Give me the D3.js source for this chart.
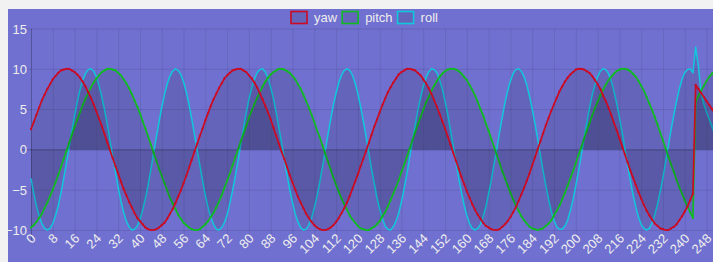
<!DOCTYPE html>
<html>
<head>
<meta charset="utf-8">
<script src="https://cdn.jsdelivr.net/npm/d3@7"></script>
<style>
  html, body { margin: 0; padding: 0; background: #f2f2f2; }
  svg { display: block; }
  text { font-family: 'Liberation Sans', Arial, sans-serif; }
</style>
</head>
<body>
<svg id="chart" width="713" height="262"></svg>
<script>
// sensor readings, one per sample index
const yaw = [
  2.5, 3.4, 4.3, 5.2, 6.1, 6.8, 7.5, 8.1, 8.7, 9.1,
  9.5, 9.8, 9.9, 10.0, 10.0, 9.8, 9.6, 9.3, 8.9, 8.4,
  7.8, 7.1, 6.4, 5.6, 4.7, 3.8, 2.9, 1.9, 0.9, -0.1,
  -1.1, -2.1, -3.0, -4.0, -4.9, -5.7, -6.5, -7.2, -7.9, -8.5,
  -8.9, -9.3, -9.7, -9.9, -10.0, -10.0, -9.9, -9.7, -9.4, -9.1,
  -8.6, -8.0, -7.4, -6.7, -5.9, -5.1, -4.2, -3.3, -2.3, -1.3,
  -0.3, 0.7, 1.7, 2.6, 3.6, 4.5, 5.4, 6.2, 6.9, 7.6,
  8.2, 8.8, 9.2, 9.5, 9.8, 9.9, 10.0, 10.0, 9.8, 9.6,
  9.2, 8.8, 8.3, 7.7, 7.0, 6.2, 5.4, 4.6, 3.7, 2.7,
  1.7, 0.7, -0.3, -1.2, -2.2, -3.2, -4.1, -5.0, -5.9, -6.6,
  -7.3, -8.0, -8.5, -9.0, -9.4, -9.7, -9.9, -10.0, -10.0, -9.9,
  -9.7, -9.4, -9.0, -8.5, -7.9, -7.3, -6.6, -5.8, -4.9, -4.0,
  -3.1, -2.1, -1.2, -0.2, 0.8, 1.8, 2.8, 3.7, 4.6, 5.5,
  6.3, 7.1, 7.7, 8.3, 8.8, 9.3, 9.6, 9.8, 10.0, 10.0,
  9.9, 9.8, 9.5, 9.2, 8.7, 8.2, 7.6, 6.9, 6.1, 5.3,
  4.4, 3.5, 2.6, 1.6, 0.6, -0.4, -1.4, -2.4, -3.4, -4.3,
  -5.2, -6.0, -6.8, -7.5, -8.1, -8.6, -9.1, -9.5, -9.7, -9.9,
  -10.0, -10.0, -9.9, -9.6, -9.3, -8.9, -8.4, -7.8, -7.2, -6.4,
  -5.6, -4.8, -3.9, -3.0, -2.0, -1.0, 0.0, 1.0, 2.0, 3.0,
  3.9, 4.8, 5.6, 6.4, 7.2, 7.8, 8.4, 8.9, 9.3, 9.6,
  9.9, 10.0, 10.0, 9.9, 9.7, 9.5, 9.1, 8.6, 8.1, 7.5,
  6.7, 6.0, 5.2, 4.3, 3.3, 2.4, 1.4, 0.4, -0.6, -1.6,
  -2.6, -3.5, -4.4, -5.3, -6.1, -6.9, -7.6, -8.2, -8.7, -9.2,
  -9.5, -9.8, -9.9, -10.0, -10.0, -9.8, -9.6, -9.3, -8.8, -8.3,
  -7.7, -7.1, -6.3, -5.5, 8.0, 7.5, 7.0, 6.5, 6.0, 5.5,
  5.0, 4.5
];

const pitch = [
  -9.7, -9.4, -9.0, -8.5, -8.0, -7.3, -6.6, -5.8, -5.0, -4.1,
  -3.2, -2.2, -1.2, -0.2, 0.8, 1.8, 2.8, 3.7, 4.6, 5.5,
  6.3, 7.0, 7.7, 8.3, 8.8, 9.2, 9.6, 9.8, 10.0, 10.0,
  9.9, 9.8, 9.5, 9.2, 8.7, 8.2, 7.6, 6.9, 6.1, 5.3,
  4.5, 3.5, 2.6, 1.6, 0.6, -0.4, -1.4, -2.4, -3.3, -4.2,
  -5.1, -6.0, -6.7, -7.4, -8.1, -8.6, -9.1, -9.4, -9.7, -9.9,
  -10.0, -10.0, -9.9, -9.6, -9.3, -8.9, -8.4, -7.9, -7.2, -6.5,
  -5.7, -4.8, -3.9, -3.0, -2.0, -1.0, 0.0, 1.0, 1.9, 2.9,
  3.9, 4.8, 5.6, 6.4, 7.1, 7.8, 8.4, 8.9, 9.3, 9.6,
  9.8, 10.0, 10.0, 9.9, 9.7, 9.5, 9.1, 8.7, 8.1, 7.5,
  6.8, 6.0, 5.2, 4.3, 3.4, 2.4, 1.5, 0.5, -0.5, -1.5,
  -2.5, -3.5, -4.4, -5.3, -6.1, -6.8, -7.5, -8.2, -8.7, -9.1,
  -9.5, -9.8, -9.9, -10.0, -10.0, -9.8, -9.6, -9.3, -8.9, -8.3,
  -7.8, -7.1, -6.3, -5.5, -4.7, -3.8, -2.8, -1.9, -0.9, 0.1,
  1.1, 2.1, 3.1, 4.0, 4.9, 5.8, 6.5, 7.3, 7.9, 8.5,
  9.0, 9.4, 9.7, 9.9, 10.0, 10.0, 9.9, 9.7, 9.4, 9.0,
  8.6, 8.0, 7.4, 6.7, 5.9, 5.0, 4.2, 3.2, 2.3, 1.3,
  0.3, -0.7, -1.7, -2.7, -3.6, -4.5, -5.4, -6.2, -7.0, -7.6,
  -8.3, -8.8, -9.2, -9.6, -9.8, -9.9, -10.0, -9.9, -9.8, -9.5,
  -9.2, -8.8, -8.2, -7.6, -7.0, -6.2, -5.4, -4.5, -3.6, -2.7,
  -1.7, -0.7, 0.3, 1.3, 2.3, 3.2, 4.2, 5.1, 5.9, 6.7,
  7.4, 8.0, 8.6, 9.0, 9.4, 9.7, 9.9, 10.0, 10.0, 9.9,
  9.7, 9.4, 9.0, 8.5, 7.9, 7.3, 6.5, 5.7, 4.9, 4.0,
  3.1, 2.1, 1.1, 0.1, -0.9, -1.9, -2.8, -3.8, -4.7, -5.5,
  -6.3, -7.1, -7.8, -8.5, 5.9, 6.6, 7.3, 7.9, 8.5, 9.0,
  9.4, 9.7
];

const roll = [
  -3.6, -5.4, -7.0, -8.3, -9.2, -9.8, -10.0, -9.8, -9.2, -8.2,
  -7.0, -5.4, -3.6, -1.7, 0.3, 2.3, 4.2, 5.9, 7.4, 8.6,
  9.4, 9.9, 10.0, 9.7, 9.0, 7.9, 6.5, 4.9, 3.1, 1.1,
  -0.9, -2.8, -4.7, -6.4, -7.8, -8.9, -9.6, -10.0, -9.9, -9.5,
  -8.7, -7.5, -6.1, -4.4, -2.5, -0.5, 1.5, 3.4, 5.2, 6.8,
  8.1, 9.1, 9.7, 10.0, 9.8, 9.3, 8.4, 7.1, 5.6, 3.8,
  1.9, -0.1, -2.0, -3.9, -5.7, -7.2, -8.4, -9.3, -9.9, -10.0,
  -9.7, -9.1, -8.1, -6.7, -5.1, -3.3, -1.4, 0.6, 2.6, 4.5,
  6.2, 7.6, 8.7, 9.5, 9.9, 10.0, 9.6, 8.8, 7.7, 6.3,
  4.6, 2.7, 0.8, -1.2, -3.2, -5.0, -6.6, -8.0, -9.0, -9.7,
  -10.0, -9.9, -9.4, -8.5, -7.3, -5.8, -4.1, -2.2, -0.2, 1.8,
  3.7, 5.5, 7.0, 8.3, 9.2, 9.8, 10.0, 9.8, 9.2, 8.2,
  6.9, 5.3, 3.5, 1.6, -0.4, -2.4, -4.2, -6.0, -7.4, -8.6,
  -9.5, -9.9, -10.0, -9.6, -8.9, -7.9, -6.5, -4.8, -3.0, -1.0,
  1.0, 2.9, 4.8, 6.4, 7.8, 8.9, 9.6, 10.0, 9.9, 9.5,
  8.6, 7.5, 6.0, 4.3, 2.4, 0.4, -1.5, -3.5, -5.3, -6.9,
  -8.2, -9.2, -9.8, -10.0, -9.8, -9.3, -8.3, -7.1, -5.5, -3.8,
  -1.8, 0.1, 2.1, 4.0, 5.8, 7.3, 8.5, 9.4, 9.9, 10.0,
  9.7, 9.0, 8.0, 6.6, 5.0, 3.2, 1.3, -0.7, -2.7, -4.5,
  -6.2, -7.7, -8.8, -9.6, -9.9, -9.9, -9.5, -8.8, -7.6, -6.2,
  -4.5, -2.7, -0.7, 1.3, 3.2, 5.1, 6.7, 8.0, 9.0, 9.7,
  10.0, 9.9, 9.4, 8.5, 7.2, 5.7, 4.0, 2.1, 0.1, -1.9,
  -3.8, -5.6, -7.1, -8.4, -9.3, -9.8, -10.0, -9.8, -9.1, -8.1,
  -6.8, -5.2, -3.5, -1.5, 0.5, 2.5, 4.3, 6.0, 7.5, 8.7,
  9.5, 9.9, 10.0, 9.5, 12.7, 10.3, 7.0, 5.6, 4.6, 3.7,
  2.8, 1.9
];

const seriesNames = ['yaw', 'pitch', 'roll'];
const seriesColors = ['#cc0a22', '#10bb22', '#10c8dc'];
const xTickLabels = [0, 8, 16, 24, 32, 40, 48, 56, 64, 72, 80, 88, 96, 104, 112, 120,
  128, 136, 144, 152, 160, 168, 176, 184, 192, 200, 208, 216, 224, 232, 240, 248];
const yTickLabels = [-10, -5, 0, 5, 10, 15];

let svg = d3.select('#chart'),
  width = +svg.attr('width'),
  height = +svg.attr('height');

// purple canvas
svg.append('rect')
  .attr('x', 8).attr('y', 9)
  .attr('width', width - 8).attr('height', height - 9)
  .attr('fill', '#7070d0');

let plotLeft = 31, plotTop = 28.5, plotBottom = 230;
let step = 2.724;

let x = d3.scaleLinear()
  .domain([0, yaw.length - 1])
  .range([plotLeft, plotLeft + (yaw.length - 1) * step]);

let y = d3.scaleLinear()
  .domain([-10, 15])
  .range([plotBottom, plotTop]);

// horizontal grid
svg.append('g')
  .attr('transform', `translate(${plotLeft - 10},0)`)
  .call(d3.axisRight(y).tickValues(yTickLabels).tickSize(width).tickFormat(''))
  .call(g => g.select('.domain').remove())
  .call(g => g.selectAll('line')
    .attr('stroke', d => d === 0 ? 'rgba(0,0,0,0.25)' : 'rgba(0,0,0,0.1)'));

// vertical grid
svg.append('g')
  .attr('transform', `translate(0,${plotTop})`)
  .call(d3.axisBottom(x).tickValues(xTickLabels).tickSize(plotBottom - plotTop + 10).tickFormat(''))
  .call(g => g.select('.domain').remove())
  .call(g => g.selectAll('line')
    .attr('stroke', d => d === 0 ? 'rgba(0,0,0,0.25)' : 'rgba(0,0,0,0.08)'));

// y labels
svg.append('g')
  .attr('transform', `translate(${plotLeft},0)`)
  .call(d3.axisLeft(y).tickValues(yTickLabels).tickSize(0).tickPadding(4))
  .call(g => g.select('.domain').remove())
  .call(g => g.selectAll('text')
    .attr('fill', '#eeeeee')
    .style('font-size', '13px')
    .attr('dy', '0.35em'));

// x labels, slanted
svg.append('g')
  .attr('transform', `translate(0,${plotBottom})`)
  .call(d3.axisBottom(x).tickValues(xTickLabels).tickSize(0))
  .call(g => g.select('.domain').remove())
  .call(g => g.selectAll('text')
    .attr('fill', '#eeeeee')
    .style('font-size', '13px')
    .attr('y', 0)
    .attr('dy', '0.35em')
    .attr('text-anchor', 'end')
    .attr('transform', 'translate(2,6) rotate(-45)'));

let series = [yaw, pitch, roll];

let area = d3.area()
  .x((d, i) => x(i))
  .y0(y(0))
  .y1(d => y(d));

let line = d3.line()
  .x((d, i) => x(i))
  .y(d => y(d));

// last dataset drawn first, like the original
for (let k = series.length - 1; k >= 0; k--) {
  let g = svg.append('g').attr('class', 'series-' + seriesNames[k]);
  g.append('path')
    .attr('d', area(series[k]))
    .attr('fill', 'rgba(0,0,0,0.1)');
  g.append('path')
    .attr('d', line(series[k]))
    .attr('fill', 'none')
    .attr('stroke', seriesColors[k])
    .attr('stroke-width', k === 2 ? 1.5 : 1.7)
    .attr('stroke-linejoin', 'round');
  // tiny point markers give the beaded look of yaw and pitch
  if (k < 2) {
    g.selectAll('circle')
      .data(series[k])
      .enter()
      .append('circle')
      .attr('cx', (d, i) => x(i))
      .attr('cy', d => y(d))
      .attr('r', 1.1)
      .attr('fill', seriesColors[k]);
  }
}

// legend
let legend = svg.append('g').attr('class', 'legend');
let lx = 291;
seriesNames.forEach((name, k) => {
  legend.append('rect')
    .attr('x', lx).attr('y', 11.5)
    .attr('width', 16).attr('height', 12)
    .attr('fill', 'rgba(0,0,0,0.1)')
    .attr('stroke', seriesColors[k])
    .attr('stroke-width', 1.6);
  let t = legend.append('text')
    .attr('x', lx + 23).attr('y', 17.5)
    .attr('dy', '0.35em')
    .attr('fill', '#eeeeee')
    .style('font-size', '13px')
    .text(name);
  lx += 23 + t.node().getComputedTextLength() + 5;
});
</script>
</body>
</html>
